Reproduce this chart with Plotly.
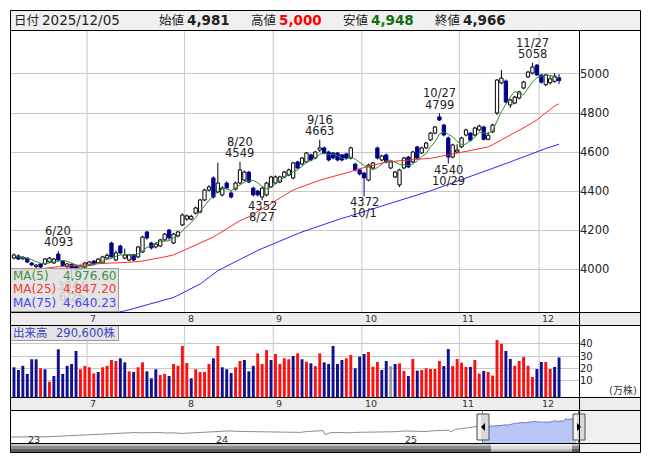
import plotly.graph_objects as go
import pandas as pd

# page body has an 8px margin, so the figure is placed at (8, 8) in the window
OFF = 8
W, H = 645, 462
def X(p): return (p - OFF) / W
def Y(p): return 1 - (p - OFF) / H

FONT = "DejaVu Sans, Noto Sans CJK JP, sans-serif"

# ---------------- data ----------------
HOLIDAYS = ["2025-07-21", "2025-08-11", "2025-09-15", "2025-09-23",
            "2025-10-13", "2025-11-03", "2025-11-24"]
dates = [d for d in pd.bdate_range("2025-06-06", "2025-12-05")
         if d.strftime("%Y-%m-%d") not in HOLIDAYS]

open_ = [4056,4067,4052,4056,4031,4012,4026,4026,4036,4031,
         4077,4040,4012,4024,4012,3998,4010,4021,4041,4031,
         4031,4056,4133,4046,4118,4056,4046,4072,4062,4087,
         4190,4133,4113,4118,4149,4200,4133,4169,4226,4256,
         4256,4287,4292,4354,4405,4467,4395,4380,4441,4390,
         4410,4441,4456,4497,4415,4400,4369,4380,4421,4441,
         4446,4472,4482,4467,4549,4538,4549,4585,4569,4610,
         4621,4600,4595,4595,4585,4590,4569,4538,4508,4492,
         4456,4518,4621,4559,4585,4518,4472,4431,4518,4574,
         4549,4626,4595,4621,4662,4697,4780,4738,4672,4574,
         4600,4626,4687,4697,4687,4713,4728,4665,4703,4800,
         4954,4964,4841,4851,4877,4928,4985,5005,5046,4995,
         4945,4955,4962,4981]
high = [4080,4075,4066,4060,4035,4026,4030,4056,4062,4058,
        4093,4045,4030,4028,4016,4020,4036,4041,4046,4056,
        4068,4080,4140,4095,4125,4105,4078,4078,4118,4170,
        4195,4140,4135,4155,4185,4205,4185,4196,4285,4280,
        4278,4320,4360,4412,4430,4475,4545,4425,4450,4398,
        4448,4549,4505,4503,4422,4405,4420,4447,4478,4480,
        4478,4503,4515,4550,4555,4575,4600,4592,4606,4663,
        4628,4606,4600,4600,4590,4596,4628,4545,4514,4498,
        4540,4550,4628,4586,4592,4555,4503,4514,4576,4580,
        4606,4632,4627,4652,4703,4734,4799,4745,4680,4642,
        4640,4678,4720,4703,4730,4740,4735,4703,4745,4975,
        5020,4972,4873,4888,4914,4965,5016,5058,5050,5000,
        5002,4995,5005,5000]
low = [4050,4045,4046,4030,4015,4006,4004,4020,4030,4026,
       4040,4012,4005,3944,3990,3993,4005,4015,4020,4026,
       4026,4050,4058,4040,4075,4050,4040,4040,4056,4082,
       4150,4100,4105,4112,4144,4150,4128,4162,4220,4248,
       4250,4280,4285,4348,4398,4362,4388,4372,4408,4362,
       4402,4435,4450,4440,4372,4372,4352,4372,4415,4435,
       4440,4466,4476,4460,4512,4532,4543,4553,4563,4600,
       4588,4552,4562,4552,4552,4562,4562,4500,4480,4372,
       4450,4512,4562,4552,4542,4512,4466,4420,4512,4517,
       4543,4562,4589,4615,4656,4691,4758,4680,4540,4568,
       4594,4620,4680,4655,4680,4706,4660,4660,4697,4790,
       4948,4850,4826,4845,4870,4922,4979,4998,4990,4950,
       4938,4945,4955,4948]
close = [4072,4051,4060,4036,4021,4020,4010,4051,4056,4051,
         4046,4018,4026,4005,3995,4015,4031,4036,4026,4051,
         4062,4070,4062,4082,4082,4072,4072,4046,4113,4164,
         4159,4108,4128,4149,4179,4159,4179,4190,4277,4272,
         4270,4313,4354,4405,4421,4369,4441,4415,4415,4369,
         4441,4508,4497,4446,4380,4380,4415,4441,4472,4472,
         4472,4497,4508,4544,4518,4569,4595,4559,4600,4621,
         4595,4559,4569,4559,4559,4569,4621,4508,4487,4467,
         4533,4544,4569,4580,4549,4549,4497,4508,4569,4523,
         4600,4569,4621,4646,4697,4728,4764,4687,4574,4636,
         4610,4672,4713,4660,4723,4733,4665,4686,4738,4969,
         4979,4856,4867,4882,4908,4959,5010,5036,4995,4958,
         4995,4975,4989,4966]

ma25 = [3985,3988,3990,3993,3996,3999,4002,4005,4008,4010,
        4012,4014,4015,4017,4019,4021,4022,4024,4026,4027,
        4029,4031,4031,4031,4032,4033,4034,4036,4038,4041,
        4046,4050,4054,4058,4062,4067,4072,4082,4092,4102,
        4112,4122,4133,4143,4153,4164,4178,4192,4207,4222,
        4236,4248,4258,4267,4281,4295,4310,4324,4338,4352,
        4367,4381,4395,4405,4414,4423,4431,4439,4447,4455,
        4462,4468,4474,4480,4486,4492,4499,4508,4514,4520,
        4526,4532,4538,4544,4549,4551,4553,4555,4557,4558,
        4559,4560,4562,4564,4568,4572,4577,4581,4585,4590,
        4595,4599,4603,4607,4611,4616,4621,4626,4637,4649,
        4661,4673,4686,4698,4711,4723,4737,4751,4764,4783,
        4802,4821,4836,4847.20]
ma75 = [3690,3694,3697,3700,3703,3707,3710,3714,3717,3721,
        3724,3728,3731,3735,3738,3742,3746,3750,3754,3758,
        3762,3766,3770,3775,3779,3785,3791,3797,3803,3809,
        3815,3824,3830,3836,3842,3848,3854,3865,3877,3889,
        3901,3912,3923,3940,3957,3974,3991,4003,4015,4027,
        4039,4051,4063,4075,4085,4095,4105,4115,4125,4135,
        4145,4155,4164,4173,4181,4190,4198,4207,4215,4224,
        4232,4240,4247,4253,4260,4266,4273,4280,4286,4293,
        4300,4306,4313,4320,4327,4334,4341,4348,4356,4363,
        4370,4378,4385,4393,4401,4409,4417,4425,4433,4441,
        4449,4457,4465,4473,4481,4489,4497,4505,4513,4522,
        4531,4540,4549,4558,4567,4576,4585,4594,4603,4611,
        4618,4625,4633,4640.23]

# volume in 万株, colour code R/B/G
volume = [21.1,18.9,22.3,15.7,27.6,27.6,20.3,19.5,9.4,14.0,
          35.7,15.7,22.3,23.8,34.3,19.5,22.3,21.1,16.2,17.3,
          21.1,22.3,27.0,26.2,28.4,25.1,17.8,17.3,21.1,25.1,
          17.8,12.2,19.5,14.8,15.7,14.0,23.8,22.3,38.4,24.6,
          12.2,19.5,17.3,17.3,23.8,28.4,38.4,21.1,19.5,16.5,
          21.1,26.2,27.0,17.8,22.3,32.4,23.8,35.1,27.0,31.9,
          23.8,28.4,27.6,30.3,32.4,27.6,25.6,24.3,22.1,32.4,
          25.1,23.8,38.4,23.8,27.0,28.4,31.1,20.3,29.7,31.9,
          33.5,21.6,25.4,18.9,26.2,22.1,23.8,24.3,18.1,14.0,
          27.8,18.4,18.9,20.3,19.7,19.7,26.2,22.1,35.9,22.1,
          27.8,24.8,21.4,21.4,27.0,16.0,18.1,17.3,14.3,43.2,
          40.2,34.3,27.8,22.3,26.2,29.4,22.3,13.2,19.7,25.4,
          25.4,19.7,21.4,29.06]
vol_dir = list("BBBBBBRBRB" "BBBBBRRRRB" "RRRRBBRBRR" "BBBRRBRRRR"
               "BRRRRBRBBB" "RRBBBRRRBR" "RRRBRBRBRR" "BBBBBRRBBB"
               "RRRBBGBRRB" "RBRRRRRBBR" "RRRBRRBRRR" "RBBRRRRRBB"
               "RRBB")

# navigator history (semi-monthly closes before the selected window)
nav_dates = ["2022-12-01","2022-12-15","2023-01-05","2023-01-20","2023-02-06","2023-02-20",
             "2023-03-06","2023-03-20","2023-04-03","2023-04-17","2023-05-01","2023-05-15",
             "2023-06-01","2023-06-15","2023-07-03","2023-07-18","2023-08-01","2023-08-15",
             "2023-09-01","2023-09-15","2023-10-02","2023-10-16","2023-11-01","2023-11-15",
             "2023-12-01","2023-12-15","2024-01-04","2024-01-19","2024-02-01","2024-02-15",
             "2024-03-01","2024-03-15","2024-04-01","2024-04-15","2024-05-01","2024-05-15",
             "2024-06-03","2024-06-17","2024-07-01","2024-07-16","2024-08-01","2024-08-05",
             "2024-08-15","2024-09-02","2024-09-17","2024-10-01","2024-10-15","2024-11-01",
             "2024-11-15","2024-12-02","2024-12-16","2025-01-06","2025-01-20","2025-02-03",
             "2025-02-17","2025-03-03","2025-03-17","2025-04-01","2025-04-07","2025-04-15",
             "2025-05-01","2025-05-15","2025-06-02"]
nav_close = [2540,2520,2530,2560,2550,2600,2640,2620,2690,2720,2780,2850,
             2940,3000,3080,3120,3140,3110,3160,3140,3080,3100,3020,3060,
             3120,3150,3250,3330,3360,3300,3280,3320,3240,3210,3180,3200,
             3140,3160,3280,3380,3400,2840,3120,3150,3100,3160,3170,3200,
             3230,3260,3250,3350,3300,3240,3280,3380,3420,3460,3250,3560,
             3700,3880,4020]

peaks = [(10, "6/20", "high"), (51, "8/20", "high"), (56, "8/27", "low"),
         (69, "9/16", "high"), (79, "10/1", "low"), (96, "10/27", "high"),
         (98, "10/29", "low"), (117, "11/27", "high")]
faint_low = (13, "6/25")

header = [("日付", 13, None, "#222"), ("2025/12/05", 41, False, "#222"),
          ("始値", 158, None, "#222"), ("4,981", 186, True, "#222"),
          ("高値", 250, None, "#222"), ("5,000", 278, True, "#ff0000"),
          ("安値", 342, None, "#222"), ("4,948", 370, True, "#107010"),
          ("終値", 434, None, "#222"), ("4,966", 462, True, "#222")]
price_ticks = [4000, 4200, 4400, 4600, 4800, 5000]
vol_ticks = [10, 20, 30, 40]
VOL_FLOOR = -3.0

# ---------------- derived ----------------
n = len(dates)
idx = list(range(n))
ma5 = pd.Series(close).rolling(5, min_periods=1).mean().tolist()
month_starts = [(i, str(dates[i].month)) for i in range(1, n) if dates[i].month != dates[i - 1].month]

UP_LINE, DN = "#000000", "#00008c"
fig = go.Figure()

def wicks(sel):
    xs, ys = [], []
    for i in sel:
        top, bot = max(open_[i], close[i]), min(open_[i], close[i])
        if high[i] > top:
            xs += [i, i, None]; ys += [high[i], top, None]
        if low[i] < bot:
            xs += [i, i, None]; ys += [bot, low[i], None]
    return xs, ys

ups = [i for i in idx if close[i] >= open_[i]]
dns = [i for i in idx if close[i] < open_[i]]
for sel, lc, fc in [(ups, UP_LINE, "#ffffff"), (dns, DN, DN)]:
    wx, wy = wicks(sel)
    fig.add_trace(go.Scatter(x=wx, y=wy, mode="lines", line=dict(color=lc, width=1),
                             xaxis="x", yaxis="y", hoverinfo="skip"))
    fig.add_trace(go.Bar(x=sel, base=[min(open_[i], close[i]) for i in sel],
                         y=[max(abs(close[i] - open_[i]), 1.5) for i in sel],
                         width=0.74, marker=dict(color=fc, line=dict(color=lc, width=1)),
                         xaxis="x", yaxis="y", hoverinfo="skip"))

for ys, col in [(ma75, "#2828ff"), (ma25, "#ff2a2a"), (ma5, "#2f8a2f")]:
    fig.add_trace(go.Scatter(x=idx, y=ys, mode="lines", line=dict(color=col, width=1),
                             xaxis="x", yaxis="y", hoverinfo="skip"))

vcol = {"R": "#ff1010", "B": "#101090", "G": "#a0a0a0"}
fig.add_trace(go.Bar(x=idx, y=[v - VOL_FLOOR for v in volume], base=VOL_FLOOR, width=0.66,
                     marker=dict(color=[vcol[c] for c in vol_dir], line=dict(width=0)),
                     xaxis="x2", yaxis="y2", hoverinfo="skip"))

sel_dates = [d.strftime("%Y-%m-%d") for d in dates]
fig.add_trace(go.Scatter(x=nav_dates + sel_dates[:1], y=nav_close + close[:1], mode="lines",
                         line=dict(color="#8c8c8c", width=1), xaxis="x3", yaxis="y3", hoverinfo="skip"))
fig.add_trace(go.Scatter(x=sel_dates, y=close, mode="lines", fill="tozeroy", fillcolor="#b9c6f6",
                         line=dict(color="#6e74c0", width=1), xaxis="x3", yaxis="y3", hoverinfo="skip"))

# ---------------- shapes ----------------
shapes = []
def rect(x0, y0, x1, y1, fill=None, line=None, layer="above", lw=1):
    shapes.append(dict(type="rect", xref="paper", yref="paper", x0=X(x0), x1=X(x1), y0=Y(y1), y1=Y(y0),
                       fillcolor=fill if fill else "rgba(0,0,0,0)",
                       line=dict(color=line if line else "rgba(0,0,0,0)", width=lw if line else 0),
                       layer=layer))
def hline(x0, x1, y, col="#000", layer="above"):
    shapes.append(dict(type="line", xref="paper", yref="paper", x0=X(x0), x1=X(x1), y0=Y(y), y1=Y(y),
                       line=dict(color=col, width=1), layer=layer))
def vline(x, y0, y1, col="#000", layer="above"):
    shapes.append(dict(type="line", xref="paper", yref="paper", x0=X(x), x1=X(x), y0=Y(y0), y1=Y(y1),
                       line=dict(color=col, width=1), layer=layer))

# month grid lines
for i, _ in month_starts:
    for xr, yr in [("x", "y domain"), ("x2", "y2 domain")]:
        shapes.append(dict(type="line", xref=xr, yref=yr, x0=i - 0.5, x1=i - 0.5, y0=0, y1=1,
                           line=dict(color="#c8c8c8", width=1), layer="below"))

rect(10, 10, 640, 30, fill="#f0f0f0", layer="below")
rect(10, 312, 640, 325, fill="#ededed", layer="below")
rect(10, 397, 640, 410, fill="#ededed", layer="below")
rect(579, 410, 640, 452, fill="#f0f0f0", layer="below")
# scrollbar
for (y0, y1, c) in [(443, 446, "#c4c4c4"), (446, 449, "#8c8c8c"), (449, 452, "#5c5c5c")]:
    rect(10, y0, 579, y1, fill=c)
for (y0, y1, c) in [(443.5, 446, "#f2f2f2"), (446, 449, "#dcdcdc"), (449, 451.5, "#bcbcbc")]:
    rect(491, y0, 572, y1, fill=c)
# navigator selection edges & handles
vline(482.5, 410, 443, col="#1ea0d8")
vline(578.5, 410, 443, col="#1ea0d8")
for hx in (477, 573):
    rect(hx, 414, hx + 12, 440, fill="#d9d9d9", line="#505050")
    rect(hx + 1, 415, hx + 4, 439, fill="#f4f4f4")
shapes.append(dict(type="path", xref="paper", yref="paper", fillcolor="#000", line=dict(width=0),
                   path=f"M {X(485)} {Y(423)} L {X(485)} {Y(431)} L {X(481)} {Y(427)} Z"))
shapes.append(dict(type="path", xref="paper", yref="paper", fillcolor="#000", line=dict(width=0),
                   path=f"M {X(577)} {Y(423)} L {X(577)} {Y(431)} L {X(581)} {Y(427)} Z"))
# legend boxes
rect(10.5, 268.5, 118.5, 311.5, fill="rgba(222,222,222,0.82)", line="#9a9a9a")
rect(10.5, 325.5, 118.5, 340.5, fill="rgba(222,222,222,0.82)", line="#9a9a9a")
# frame lines
for yy in (30.5, 312.5, 325.5, 397.5, 410.5, 443.5):
    hline(10, 640, yy)
vline(579.5, 30, 452)
rect(10.5, 10.5, 640.5, 452.5, line="#000")

# ---------------- annotations ----------------
ann = []
def txt(x, y, s, size=12, color="#222", anchor="left", bold=False, xref="paper", yref="paper", yshift=0, ya="middle"):
    ann.append(dict(x=x, y=y, xref=xref, yref=yref, text=f"<b>{s}</b>" if bold else s, showarrow=False,
                    xanchor=anchor, yanchor=ya, yshift=yshift,
                    font=dict(size=size, color=color, family=FONT), borderpad=0))

for s, xp, bold, col in header:
    if bold is None:
        txt(X(xp), Y(20.5), s, size=12.5, color=col)
    else:
        txt(X(xp), Y(20.5), s, size=13.5, color=col, bold=bold)

for i, m in month_starts:
    for xr, yc in [("x", 318.5), ("x2", 403.5)]:
        ann.append(dict(x=i - 0.5, y=Y(yc), xref=xr, yref="paper", text=m, showarrow=False,
                        xanchor="left", xshift=1, yanchor="middle",
                        font=dict(size=9.5, color="#333", family=FONT)))

for i, d, kind in peaks:
    if kind == "high":
        txt(i, high[i], str(high[i]), size=11.5, anchor="center", xref="x", yref="y", yshift=8.5)
        txt(i, high[i], d, size=11.5, anchor="center", xref="x", yref="y", yshift=20)
    else:
        txt(i, low[i], str(low[i]), size=11.5, anchor="center", xref="x", yref="y", yshift=-6)
        txt(i, low[i], d, size=11.5, anchor="center", xref="x", yref="y", yshift=-17)
fi, fd = faint_low
txt(fi, low[fi], str(low[fi]), size=11.5, color="#c8c8c8", anchor="center", xref="x", yref="y", yshift=-6)
txt(fi, low[fi], fd, size=11.5, color="#c8c8c8", anchor="center", xref="x", yref="y", yshift=-17)

for (lab, val, col, yc) in [("MA(5)", ma5[-1], "#3f8f3f", 275.5),
                            ("MA(25)", ma25[-1], "#f03c3c", 289),
                            ("MA(75)", ma75[-1], "#4646f0", 302.5)]:
    txt(X(12), Y(yc), lab, size=12, color=col)
    txt(X(117), Y(yc), f"{val:,.2f}", size=12, color=col, anchor="right")

txt(X(12), Y(333), "出来高", size=11.5, color="#4040c0")
txt(X(117), Y(333), f"{volume[-1]*10000:,.0f}株", size=11.5, color="#4040c0", anchor="right")
txt(X(638), Y(390), "(万株)", size=10, color="#333", anchor="right")

for yr, lab in [("2023-01-01", "23"), ("2024-01-01", "24"), ("2025-01-01", "25")]:
    ann.append(dict(x=yr, y=Y(439), xref="x3", yref="paper", text=lab, showarrow=False,
                    xanchor="left", xshift=1, yanchor="middle",
                    font=dict(size=9.5, color="#333", family=FONT)))

# ---------------- layout ----------------
xr = [-0.9, 127.5]
common_x = dict(range=xr, showgrid=False, zeroline=False, showticklabels=False, ticks="",
                showline=False, fixedrange=True, domain=[X(10), X(579)])
fig.update_layout(
    width=W, height=H, margin=dict(l=0, r=0, t=0, b=0),
    paper_bgcolor="#ffffff", plot_bgcolor="#ffffff",
    showlegend=False, barmode="overlay", hovermode=False,
    font=dict(family=FONT, size=12, color="#222"),
    xaxis=dict(common_x, anchor="y"),
    yaxis=dict(domain=[Y(312), Y(30)], range=[3779.5, 5225.6], side="right", anchor="x",
               tickvals=price_ticks, ticktext=[str(v) for v in price_ticks],
               showgrid=True, gridcolor="#c8c8c8", gridwidth=1, zeroline=False, ticks="",
               tickfont=dict(size=11.5, color="#222"), fixedrange=True),
    xaxis2=dict(common_x, anchor="y2"),
    yaxis2=dict(domain=[Y(397), Y(325)], range=[VOL_FLOOR, 55.4], side="right", anchor="x2",
                tickvals=vol_ticks, ticktext=[str(v) for v in vol_ticks],
                showgrid=True, gridcolor="#c8c8c8", gridwidth=1, zeroline=False, ticks="",
                tickfont=dict(size=10, color="#222"), fixedrange=True),
    xaxis3=dict(type="date", range=["2022-12-02", "2025-12-11"], domain=[X(10), X(579)],
                showgrid=False, zeroline=False, showticklabels=False, ticks="", anchor="y3", fixedrange=True),
    yaxis3=dict(domain=[Y(443), Y(410)], range=[1731, 6179], showgrid=False, zeroline=False,
                showticklabels=False, ticks="", anchor="x3", fixedrange=True),
    shapes=shapes, annotations=ann,
)

fig.write_html("out.html", config={"displayModeBar": False})
